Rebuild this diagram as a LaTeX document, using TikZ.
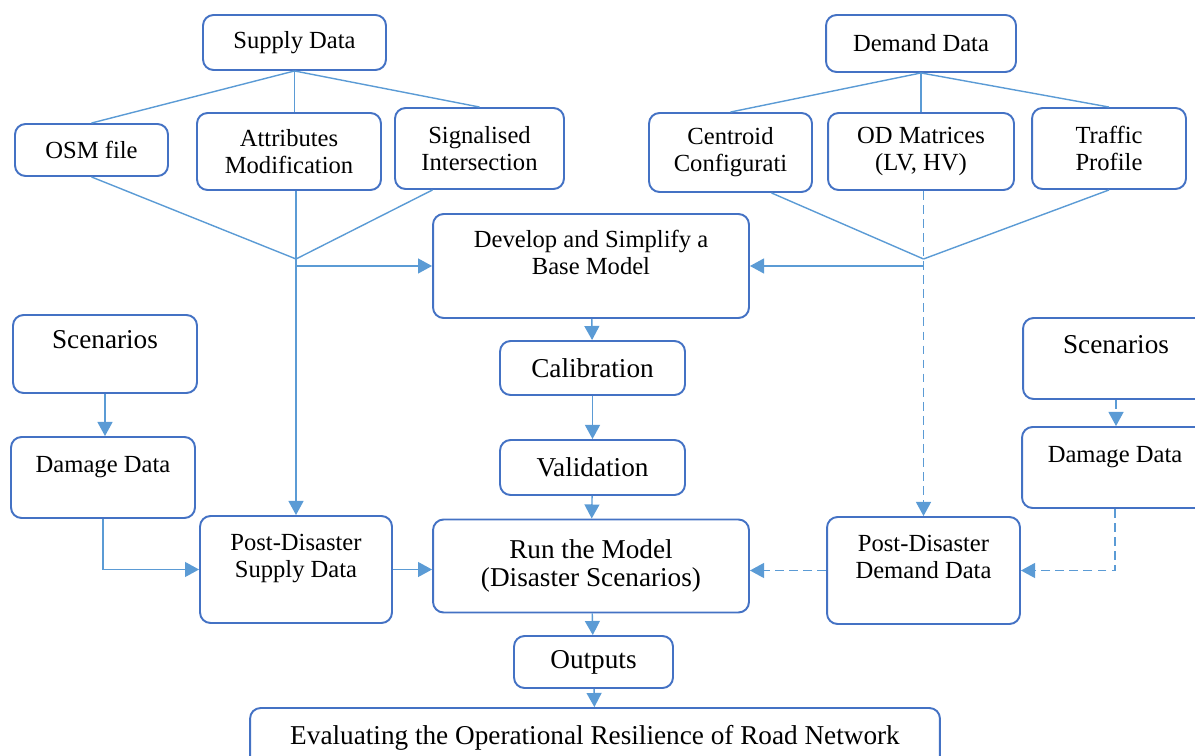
\documentclass[tikz,border=0pt]{standalone}
\usepackage{fontspec}
\setmainfont{Liberation Serif}
\usepackage{tikz}
\usetikzlibrary{arrows.meta,calc}
\definecolor{boxblue}{HTML}{4472C4}
\definecolor{lineblue}{HTML}{5B9BD5}

\begin{document}
\begin{tikzpicture}[x=0.02cm,y=-0.02cm,
    box/.style={draw=boxblue, line width=1.1pt, rounded corners=6pt, align=center, font=\fontsize{14}{15.3}\selectfont},
    bigbox/.style={box, font=\fontsize{15.5}{16.3}\selectfont},
    link/.style={lineblue, line width=0.8pt},
    arrow/.style={link, -{Triangle[length=8pt,width=8.5pt]}},
    dashlink/.style={arrow, dash pattern=on 5pt off 3pt}]

            % Frame
            \clip (0,0) rectangle (1195,756);

            % Supply side
            \node[box, minimum width=3.66cm, minimum height=1.1cm] (supply) at (294.5,42.5) {Supply Data};
            \node[box, minimum width=3.06cm, minimum height=1.04cm] (osm) at (91.5,150) {OSM file};
            \node[box, minimum width=3.68cm, minimum height=1.54cm] (attr) at (289,151.5) {Attributes\\Modification};
            \node[box, minimum width=3.38cm, minimum height=1.62cm] (signal) at (479.5,148.5) {Signalised\\Intersection};

            % Demand side
            \node[box, minimum width=3.8cm, minimum height=1.14cm] (demand) at (921,43.5) {Demand Data};
            \node[box, minimum width=3.26cm, minimum height=1.58cm] (centroid) at (730.5,152.5) {Centroid\\Configurati};
            \node[box, minimum width=3.72cm, minimum height=1.54cm] (od) at (921,151.5) {OD Matrices\\(LV, HV)};
            \node[box, minimum width=3.08cm, minimum height=1.62cm] (traffic) at (1109,148.5) {Traffic\\Profile};

            % Main chain
            \node[box, minimum width=6.32cm, minimum height=2.08cm] (base) at (591,266) {Develop and Simplify a\\Base Model\\~};
            \node[bigbox, minimum width=3.7cm, minimum height=1.08cm] (calib) at (592.5,368) {Calibration};
            \node[bigbox, minimum width=3.7cm, minimum height=1.1cm] (valid) at (592.5,467.5) {Validation};
            \node[bigbox, minimum width=6.32cm, minimum height=1.86cm] (run) at (591,566) {Run the Model\\(Disaster Scenarios)};
            \node[bigbox, minimum width=3.18cm, minimum height=1.04cm] (outputs) at (593.5,662) {Outputs};
            \node[bigbox, minimum width=13.8cm, minimum height=1.2cm] (eval) at (595,738) {Evaluating the Operational Resilience of Road Network};

            % Scenarios and damage
            \node[bigbox, minimum width=3.68cm, minimum height=1.56cm] (scenL) at (105,354) {Scenarios\\~};
            \node[box, minimum width=3.68cm, minimum height=1.62cm] (damL) at (103,477.5) {Damage Data\\~};
            \node[box, minimum width=3.84cm, minimum height=2.14cm] (postS) at (296,569.5) {Post-Disaster\\Supply Data\\~};
            \node[bigbox, minimum width=3.72cm, minimum height=1.62cm] (scenR) at (1116,358.5) {Scenarios\\~};
            \node[box, minimum width=3.72cm, minimum height=1.62cm] (damR) at (1115,467.5) {Damage Data\\~};
            \node[box, minimum width=3.86cm, minimum height=2.14cm] (postD) at (923.5,570.5) {Post-Disaster\\Demand Data\\~};

            % Junctions
            \coordinate (sj) at (postS.north |- 0,259);
            \coordinate (dj) at (postD.north |- 0,259);

            % Supply links
            \draw[link] (supply.south) -- (osm.north);
            \draw[link] (supply.south) -- (supply.south |- attr.north);
            \draw[link] (supply.south) -- (signal.north);
            \draw[link] (osm.south) -- (sj);
            \draw[link] ($(signal.south)+(-47,0)$) -- (sj);
            \draw[arrow] (postS.north |- attr.south) -- (postS.north);
            \draw[arrow] (sj |- base.west) -- (base.west);

            % Demand links
            \draw[link] (demand.south) -- (centroid.north);
            \draw[link] (demand.south) -- (od.north);
            \draw[link] (demand.south) -- (traffic.north);
            \draw[link] ($(centroid.south)+(41,0)$) -- (dj);
            \draw[link] (traffic.south) -- (dj);
            \draw[dashlink] (postD.north |- od.south) -- (postD.north);
            \draw[arrow] (dj |- base.east) -- (base.east);

            % Chain arrows
            \draw[arrow] (base) -- (calib);
            \draw[arrow] (calib) -- (valid);
            \draw[arrow] (valid) -- (run);
            \draw[arrow] (run) -- (outputs);
            \draw[arrow] (outputs) -- (eval);

            % Disaster inputs
            \draw[arrow] (scenL.south) -- (scenL.south |- damL.north);
            \draw[arrow] (damL.south) |- (postS.west);
            \draw[arrow] (postS.east) -- (postS.east -| run.west);
            \draw[dashlink] (scenR.south) -- (scenR.south |- damR.north);
            \draw[dashlink] (damR.south) |- (postD.east);
            \draw[dashlink] (postD.west) -- (postD.west -| run.east);
        \end{tikzpicture}
\end{document}
